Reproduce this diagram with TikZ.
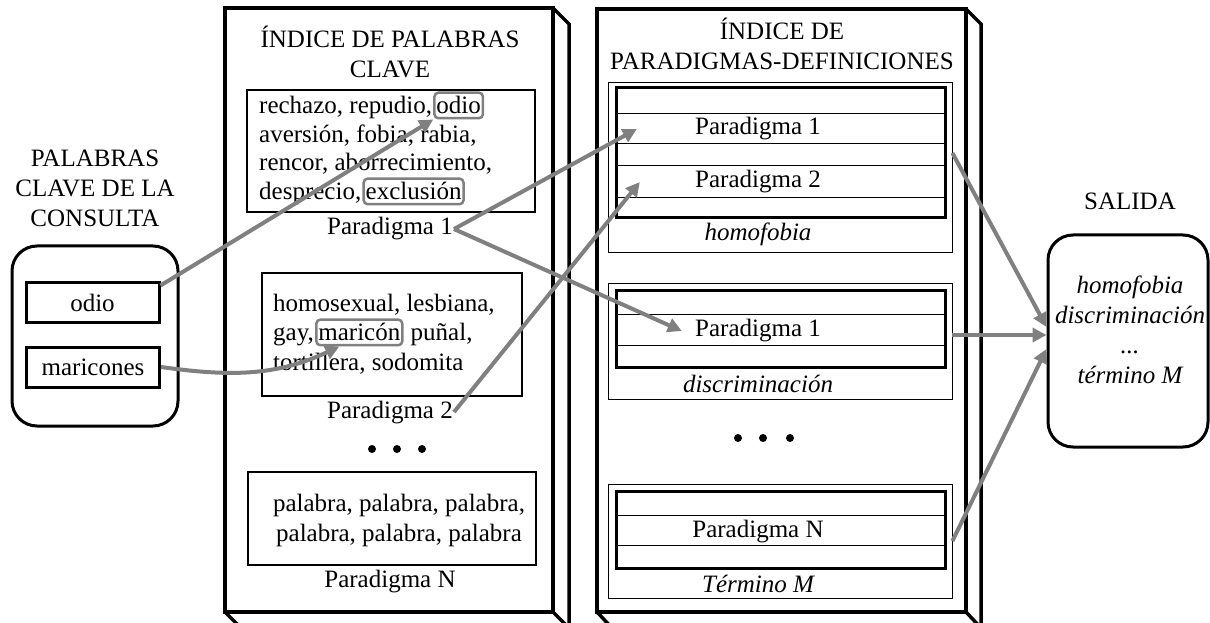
\documentclass[tikz,border=0pt]{standalone}
\usepackage{fontspec}
\setmainfont{Liberation Serif}
\usetikzlibrary{arrows.meta}

\tikzset{
  panel/.style={line width=3.5pt},
  pbox/.style={line width=2pt},
  qbox/.style={draw, line width=3pt, rounded corners=25pt, minimum width=166pt, minimum height=180pt},
  kbox/.style={draw, line width=3pt, minimum width=133pt, minimum height=40pt, inner sep=0pt},
  hl/.style={draw=gray, line width=2.5pt, rounded corners=4pt, inner xsep=2pt, inner ysep=4pt, anchor=base west},
  txt/.style={inner sep=0pt, anchor=base west},
  lbl/.style={inner sep=1pt, anchor=base},
  row/.style={inner sep=0pt, minimum width=284pt, anchor=base},
  grp/.style={draw, line width=0.8pt, minimum width=344pt},
  it/.style={font=\fontsize{25}{30}\selectfont\itshape},
  conn/.style={draw=gray, line width=4pt, -{Triangle[length=14pt,width=14pt]}},
}

\begin{document}
\begin{tikzpicture}[x=1pt,y=1pt,font=\fontsize{25}{30}\selectfont]
		\useasboundingbox (0,0) rectangle (1210,622);
		% consulta
		\node[align=center] (consT) at (95,434) {PALABRAS\\CLAVE DE LA\\CONSULTA};
		\node[qbox] (cons) at (95,286) {};
		\node[kbox] (qOdio) at (92.5,319) {odio};
		\node[kbox] (qMaric) at (93,255) {maricones};
		% indice de palabras clave
		\draw[panel] (225,10) rectangle (553,614);
		\draw[panel] (553,614) -- (569,598) -- (569,-6) -- (241,-6) -- (225,10);
		\draw[panel] (553,10) -- (569,-6);
		\node[align=center] (kwT) at (390,570) {ÍNDICE DE PALABRAS\\CLAVE};
		\draw[pbox] (247,532) rectangle (535,410);
		\node[txt] (a1) at (259,508) {rechazo, repudio,};
		\node[hl] (kOdio) at ([xshift=1pt]a1.base east) {odio};
		\node[txt] (a2) at (259,479) {aversión, fobia, rabia,};
		\node[txt] (a3) at (259,451) {rencor, aborrecimiento,};
		\node[txt] (a4) at (259,422) {desprecio,};
		\node[hl] (kExcl) at ([xshift=1pt]a4.base east) {exclusión};
		\node[lbl] (p1L) at (390,387) {Paradigma 1};
		\draw[pbox] (262,349) rectangle (522,226);
		\node[txt] (b1) at (273,310) {homosexual, lesbiana,};
		\node[txt] (b2) at (273,281) {gay,};
		\node[hl] (kMaric) at ([xshift=1pt]b2.base east) {maricón};
		\node[txt] (b2b) at ([xshift=7pt]kMaric.base east) {puñal,};
		\node[txt] (b3) at (273,252) {tortillera, sodomita};
		\node[lbl] (p2L) at (390,204) {Paradigma 2};
		\fill (372,173) circle (4pt);
		\fill (397,173) circle (4pt);
		\fill (422,173) circle (4pt);
		\draw[pbox] (248,150) rectangle (536,57);
		\node[align=center] (cN) at (399,102) {palabra, palabra, palabra,\\palabra, palabra, palabra};
		\node[lbl] (pNL) at (390,35) {Paradigma N};
		% indice de paradigmas-definiciones
		\draw[panel] (597,10) rectangle (966,613);
		\draw[panel] (966,613) -- (981,598) -- (981,-6) -- (612,-6) -- (597,10);
		\draw[panel] (966,10) -- (981,-6);
		\node[align=center] (pdT) at (782,578) {ÍNDICE DE\\PARADIGMAS-DEFINICIONES};
		% homofobia
		\node[grp, minimum height=170pt] (homG) at (780,455) {};
		\draw[line width=3pt] (616,534) rectangle (945,404);
		\draw (616,509) -- (945,509);
		\draw (616,479) -- (945,479);
		\draw (616,457) -- (945,457);
		\draw (616,425) -- (945,425);
		\node[row] (hP1) at (758,487) {Paradigma 1};
		\node[row] (hP2) at (758,434) {Paradigma 2};
		\node[it, anchor=base] (homL) at (758,381) {homofobia};
		% discriminacion
		\node[grp, minimum height=116pt] (dG) at (780,281) {};
		\draw[line width=3pt] (616,331) rectangle (945,255);
		\draw (616,308) -- (945,308);
		\draw (616,277) -- (945,277);
		\node[row] (dP1) at (758,285) {Paradigma 1};
		\node[it, anchor=base] (discL) at (758,230) {discriminación};
		\fill (738,184) circle (4pt);
		\fill (763,184) circle (4pt);
		\fill (790,184) circle (4pt);
		% termino M
		\node[grp, minimum height=114pt] (tG) at (780,81) {};
		\draw[line width=3pt] (616,131) rectangle (945,54);
		\draw (616,107) -- (945,107);
		\draw (616,77) -- (945,77);
		\node[row] (tPN) at (758,85) {Paradigma N};
		\node[it, anchor=base] (termL) at (758,30) {Término M};
		% salida
		\node[anchor=base] (salT) at (1130,412) {SALIDA};
		\node[draw, line width=3pt, rounded corners=25pt, minimum width=160pt, minimum height=212pt] (sal) at (1128,281) {};
		\node[it, align=center] (salL) at (1130,292) {homofobia\\discriminación\\...\\término M};
		% conectores
		\draw[conn] ([yshift=-4pt]qOdio.north east) -- (kOdio.south west);
		\draw[conn] (qMaric.east) to[out=-8,in=205] ([xshift=-20pt]kMaric.south);
		\draw[conn] (p1L.east) -- ([xshift=21pt]hP1.west);
		\draw[conn] (p1L.east) -- ([xshift=66pt]dP1.west);
		\draw[conn] (p2L.east) -- ([xshift=24pt]hP2.west);
		\draw[conn] ([yshift=14pt]homG.east) -- ([yshift=14pt]sal.west);
		\draw[conn] ([yshift=6pt]dG.east) -- ([yshift=6pt]sal.west);
		\draw[conn] (tG.east) -- ([yshift=-8pt]sal.west);
	\end{tikzpicture}
\end{document}
